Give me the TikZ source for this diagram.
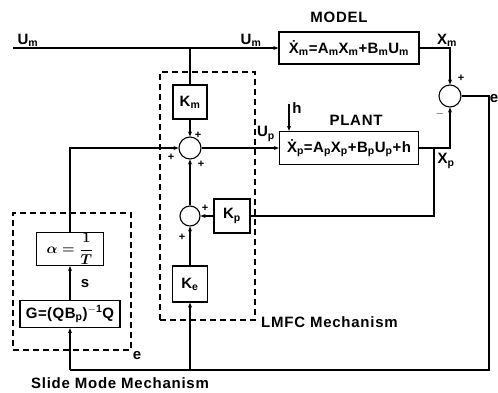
\documentclass[tikz,border=0pt]{standalone}
\usepackage{fontspec}
\setmainfont{Liberation Sans}
\usetikzlibrary{positioning,arrows.meta}
\newcommand{\sbs}[1]{\textsubscript{#1}}

\begin{document}
\begin{tikzpicture}[x=1pt, y=-1pt,
    blk/.style={draw, line width=1.3pt, inner sep=2pt, font=\fontsize{15}{17}\selectfont\bfseries\addfontfeatures{LetterSpace=3}},
    sum/.style={draw, circle, line width=1.1pt, minimum size=22pt, inner sep=0pt},
    dbox/.style={draw, dash pattern=on 6pt off 4pt, line width=1.1pt, inner sep=0pt},
    lbl/.style={font=\fontsize{15}{17}\selectfont\bfseries\addfontfeatures{LetterSpace=5}, inner sep=1pt},
    sgn/.style={font=\fontsize{11}{12}\selectfont\bfseries, inner sep=0pt},
    arr/.style={-{Stealth[length=5pt,width=4pt]}, line width=1.1pt},
    wire/.style={line width=1.1pt},
]
\useasboundingbox (0,0) rectangle (498,392);

% Model and plant
\node[blk, minimum width=140pt, minimum height=32pt] (model) at (349,48) {\.{X}\sbs{m}=A\sbs{m}X\sbs{m}+B\sbs{m}U\sbs{m}};
\node[lbl] (modelT) at (339,17) {MODEL};
\node[blk, minimum width=139pt, minimum height=33pt] (plant) at (349,148) {\.{X}\sbs{p}=A\sbs{p}X\sbs{p}+B\sbs{p}U\sbs{p}+h};
\node[lbl] (plantT) at (356,120) {PLANT};
\node[sum] (sm) at (450,96) {};

% LMFC mechanism
\node[dbox, minimum width=95pt, minimum height=248pt] (lmfc) at (207.5,196) {};
\node[blk, minimum size=34pt] (km) at (190,102) {K\sbs{m}};
\node[sum] (s1) at (190,148) {};
\node[sum, minimum size=20pt] (s2) at (190,216) {};
\node[blk, minimum width=36pt, minimum height=34pt] (kp) at (232,216) {K\sbs{p}};
\node[blk, minimum width=35pt, minimum height=36pt] (ke) at (190,284) {K\sbs{e}};

% Slide mode mechanism
\node[dbox, minimum width=118pt, minimum height=137pt] (slide) at (72,281.5) {};
\node[blk, minimum width=67pt, minimum height=32pt, inner sep=1pt, font=\fontsize{14}{15}\selectfont\boldmath] (alpha) at (70,249) {$\displaystyle\alpha=\frac{1}{T}$};
\node[blk, minimum width=100pt, minimum height=27pt, inner sep=1pt] (G) at (70,314) {G=(QB\sbs{p})\textsuperscript{$-$1}Q};

% Labels
\node[lbl] (um1) at (28,40) {U\sbs{m}};
\node[lbl] (um2) at (251,40) {U\sbs{m}};
\node[lbl] (up) at (266,134) {U\sbs{p}};
\node[lbl] (xm) at (447,40) {X\sbs{m}};
\node[lbl] (xp) at (446,161) {X\sbs{p}};
\node[lbl] (e1) at (494,99) {e};
\node[lbl] (e2) at (137,356) {e};
\node[lbl] (sl) at (85,284) {s};
\node[lbl] (hl) at (297,108) {h};
\node[lbl, anchor=west] (lmfcT) at (260,322) {LMFC Mechanism};
\node[lbl] (slideT) at (120,383) {Slide Mode Mechanism};

% Signs
\node[sgn] (pm) at (461,78) {+};
\node[sgn] (mp) at (440,114) {$-$};
\node[sgn] (p1) at (198,135) {+};
\node[sgn] (p2) at (171,157) {+};
\node[sgn] (p3) at (201,164) {+};
\node[sgn] (p4) at (205,208) {+};
\node[sgn] (p5) at (182,237) {+};

% Connections
\coordinate (umL) at (13,48);
\draw[arr] (umL) -- (model);
\draw[wire] (km.north |- umL) -- (km);
\draw[arr] (km) -- (s1);
\draw[arr] (s1) -- (plant);
\draw[arr] (alpha.north) |- (s1);
\draw[arr] (G) -- (alpha);
\draw[arr] (s2) -- (s1);
\draw[arr] (ke) -- (s2);
\draw[arr] (kp) -- (s2);
\coordinate (hT) at (289,104);
\draw[arr] (hT) -- (hT |- plant.north);
\draw[arr] (model) -| (sm);
\draw[arr] (plant) -| (sm);
\coordinate (xpB) at (434,148);
\draw[wire] (xpB) |- (kp);
\coordinate (eR) at (489,370);
\draw[wire] (sm) -| (eR) -- (G.south |- eR);
\draw[arr] (G.south |- eR) -- (G);
\draw[arr] (ke.south |- eR) -- (ke);
\end{tikzpicture}
\end{document}
